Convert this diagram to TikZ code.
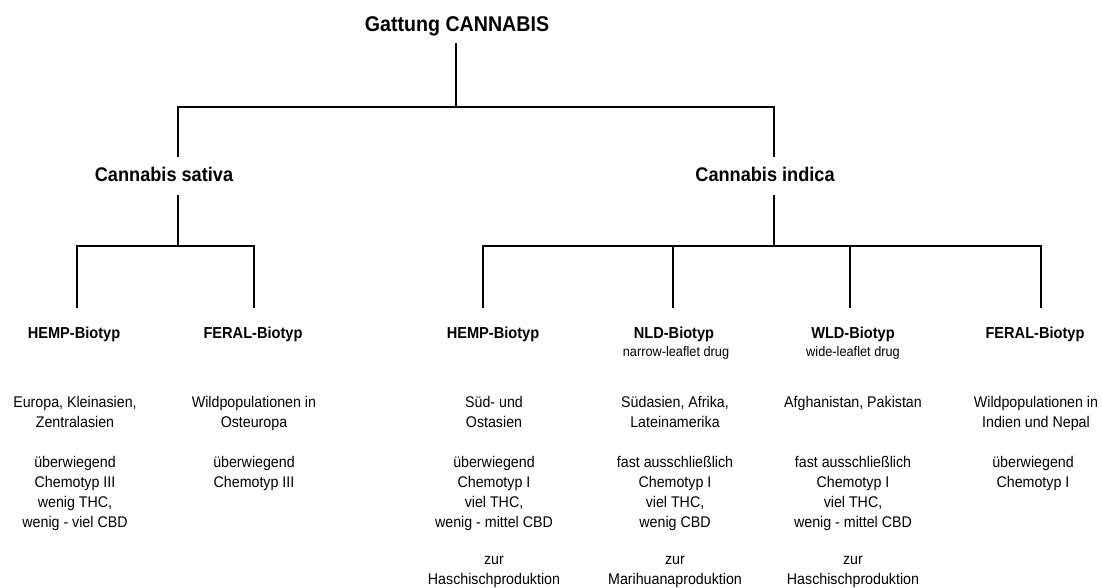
\documentclass[tikz,border=0pt]{standalone}
\usepackage{fontspec}
\setmainfont[FakeStretch=0.92]{Liberation Sans}
\begin{document}
\begin{tikzpicture}[x=0.75pt,y=-0.75pt,
  conn/.style={line width=0.8pt, black},
  ttl/.style={font=\bfseries\fontsize{16}{19}\selectfont, anchor=base, inner sep=0pt},
  spec/.style={font=\bfseries\fontsize{14.8}{18}\selectfont, anchor=base, inner sep=0pt},
  bio/.style={font=\bfseries\fontsize{11.9}{14}\selectfont, anchor=base, inner sep=0pt},
  sub/.style={font=\fontsize{10.4}{12}\selectfont, anchor=base, inner sep=0pt},
  body/.style={font=\fontsize{11.6}{15}\selectfont, anchor=base, align=center, inner sep=0pt},
]
\useasboundingbox (0,0) rectangle (1102,588);

% texts (multi-line nodes: base anchor = baseline of last line)
\node[ttl] (root) at (457,31.5) {Gattung CANNABIS};
\node[spec] (sat) at (164,181) {Cannabis sativa};
\node[spec] (ind) at (765,181) {Cannabis indica};

\node[bio] (b1t) at (74,338.5) {HEMP-Biotyp};
\node[bio] (b2t) at (253,338.5) {FERAL-Biotyp};
\node[bio] (b3t) at (493,338.5) {HEMP-Biotyp};
\node[bio] (b4t) at (674,338.5) {NLD-Biotyp};
\node[bio] (b5t) at (853,338.5) {WLD-Biotyp};
\node[bio] (b6t) at (1035,338.5) {FERAL-Biotyp};
\node[sub] (b4s) at (676,356) {narrow-leaflet drug};
\node[sub] (b5s) at (853,356) {wide-leaflet drug};

\node[body] (l1) at (75,427.5) {Europa, Kleinasien,\\Zentralasien};
\node[body] (l2) at (254,427.5) {Wildpopulationen in\\Osteuropa};
\node[body] (l3) at (494,427.5) {Süd- und\\Ostasien};
\node[body] (l4) at (675,427.5) {Südasien, Afrika,\\Lateinamerika};
\node[body] (l5) at (853,407.5) {Afghanistan, Pakistan};
\node[body] (l6) at (1036,427.5) {Wildpopulationen in\\Indien und Nepal};

\node[body] (c1) at (75,527.5) {überwiegend\\Chemotyp III\\wenig THC,\\wenig - viel CBD};
\node[body] (c2) at (254,487.5) {überwiegend\\Chemotyp III};
\node[body] (c3) at (494,527.5) {überwiegend\\Chemotyp I\\viel THC,\\wenig - mittel CBD};
\node[body] (c4) at (675,527.5) {fast ausschließlich\\Chemotyp I\\viel THC,\\wenig CBD};
\node[body] (c5) at (853,527.5) {fast ausschließlich\\Chemotyp I\\viel THC,\\wenig - mittel CBD};
\node[body] (c6) at (1033,487.5) {überwiegend\\Chemotyp I};

\node[body] (p3) at (494,584) {zur\\Haschischproduktion};
\node[body] (p4) at (675,584) {zur\\Marihuanaproduktion};
\node[body] (p5) at (853,584) {zur\\Haschischproduktion};

% junction coordinates
\coordinate (r0) at (456,43);
\coordinate (r1) at (456,107);
\coordinate (s0) at (178,107);
\coordinate (s1) at (178,157);
\coordinate (i0) at (774,107);
\coordinate (i1) at (774,157);
\coordinate (s2) at (178,195);
\coordinate (s3) at (178,246);
\coordinate (i2) at (774,195);
\coordinate (i3) at (774,246);
\coordinate (j1) at (77,246);   \coordinate (e1) at (77,308);
\coordinate (j2) at (254,246);  \coordinate (e2) at (254,308);
\coordinate (j3) at (483,246);  \coordinate (e3) at (483,308);
\coordinate (j4) at (673,246);  \coordinate (e4) at (673,308);
\coordinate (j5) at (850,246);  \coordinate (e5) at (850,308);
\coordinate (j6) at (1041,246); \coordinate (e6) at (1041,308);

% connectors
\draw[conn] (r0) -- (r1);
\draw[conn] (s1) -- (s0) -- (i0) -- (i1);
\draw[conn] (s2) -- (s3);
\draw[conn] (i2) -- (i3);
\draw[conn] (e1) -- (j1) -- (j2) -- (e2);
\draw[conn] (e3) -- (j3) -- (j6) -- (e6);
\draw[conn] (j4) -- (e4);
\draw[conn] (j5) -- (e5);
\end{tikzpicture}
\end{document}
